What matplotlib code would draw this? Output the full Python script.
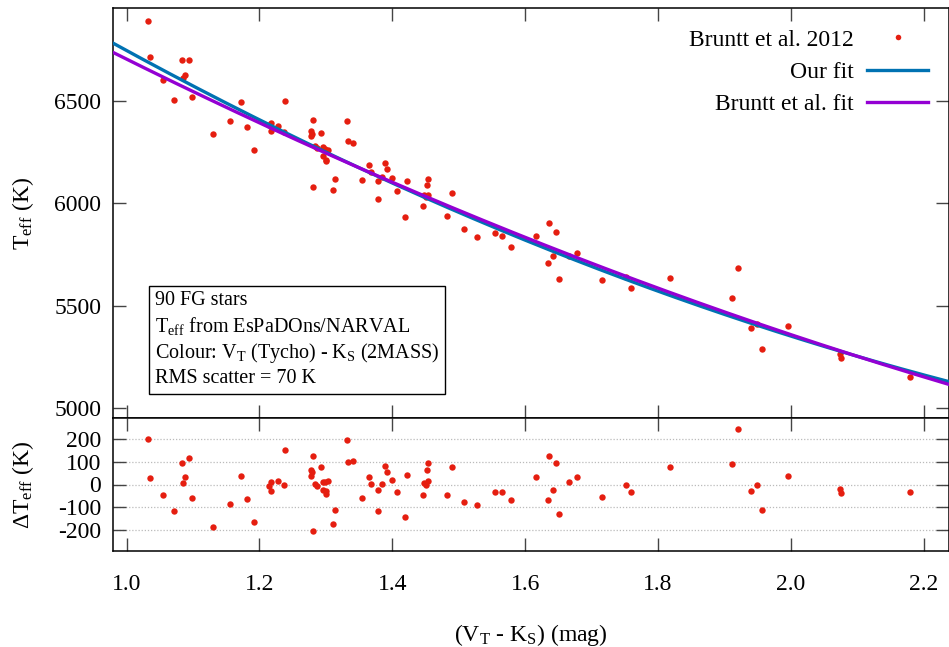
import numpy as np
import matplotlib
matplotlib.use("Agg")
import matplotlib.pyplot as plt
from matplotlib.lines import Line2D

plt.rcParams['font.family'] = ['Liberation Serif', 'DejaVu Serif']
plt.rcParams['mathtext.fontset'] = 'custom'
plt.rcParams['mathtext.rm'] = 'Liberation Serif'
plt.rcParams['mathtext.it'] = 'Liberation Serif:italic'
plt.rcParams['mathtext.bf'] = 'Liberation Serif:bold'
plt.rcParams['axes.unicode_minus'] = False

# ---- data ----
colour = [1.032, 1.035, 1.055, 1.071, 1.083, 1.085, 1.088, 1.094, 1.098, 1.130,
          1.155, 1.172, 1.182, 1.192, 1.214, 1.217, 1.218, 1.228, 1.237, 1.238,
          1.277, 1.277, 1.279, 1.281, 1.284, 1.286, 1.281, 1.292, 1.296, 1.299,
          1.303, 1.296, 1.300, 1.300, 1.314, 1.311, 1.332, 1.333, 1.341, 1.355,
          1.365, 1.368, 1.378, 1.379, 1.385, 1.389, 1.392, 1.399, 1.407, 1.419,
          1.422, 1.446, 1.448, 1.450, 1.452, 1.453, 1.454, 1.482, 1.490, 1.508,
          1.527, 1.554, 1.565, 1.579, 1.616, 1.636, 1.647, 1.642, 1.634, 1.651,
          1.666, 1.678, 1.716, 1.752, 1.760, 1.818, 1.911, 1.920, 1.940, 1.949,
          1.957, 1.996, 2.074, 2.076, 2.180]
teff = [6888, 6711, 6601, 6505, 6696, 6609, 6627, 6696, 6516, 6338,
        6398, 6492, 6372, 6257, 6380, 6391, 6352, 6377, 6346, 6497,
        6351, 6325, 6337, 6404, 6278, 6268, 6078, 6341, 6271, 6265,
        6261, 6229, 6211, 6203, 6117, 6062, 6398, 6302, 6292, 6112,
        6187, 6151, 6109, 6018, 6127, 6197, 6166, 6124, 6058, 5932,
        6110, 5984, 6040, 6029, 6086, 6117, 6037, 5937, 6051, 5873,
        5834, 5853, 5838, 5785, 5839, 5903, 5857, 5743, 5708, 5628,
        5744, 5758, 5624, 5640, 5588, 5633, 5539, 5681, 5390, 5408,
        5289, 5400, 5263, 5245, 5150]
dteff = [200, 29, -47, -117, 95, 6, 34, 114, -59, -186,
         -85, 39, -65, -164, -6, 10, -28, 15, -2, 149,
         64, 36, 53, 126, 4, -6, -204, 77, 11, 11,
         15, -26, -29, -40, -113, -173, 196, 99, 104, -57,
         35, 3, -25, -114, 3, 80, 53, 19, -35, -141,
         42, -47, 7, -3, 62, 92, 15, -47, 77, -75,
         -88, -33, -33, -68, 35, 126, 95, -25, -70, -129,
         10, 33, -55, 0, -34, 77, 89, 242, -29, -2,
         -112, 38, -18, -37, -35]

# quadratic fit coefficients (a + b x + c x^2)
our_fit = [8879.0, -2506.0, 371.0]
bruntt_fit = [8570.0, -2130.0, 262.0]

xticks = [1.0, 1.2, 1.4, 1.6, 1.8, 2.0, 2.2]
yticks_top = [5000, 5500, 6000, 6500]
yticks_bot = [-200, -100, 0, 100, 200]

labels = ['Bruntt et al. 2012', 'Our fit', 'Bruntt et al. fit']
box_lines = ['90 FG stars',
             r'T$_{\rm eff}$ from EsPaDOns/NARVAL',
             r'Colour: V$_{\rm T}$ (Tycho) - K$_{\rm S}$ (2MASS)',
             'RMS scatter = 70 K']

RED = '#e51e10'
BLUE = '#0072b2'
PURPLE = '#9400d3'

W, H = 949, 647
fig = plt.figure(figsize=(W / 100, H / 100), dpi=100)
L = 113.3 / W
R = 949.0 / W
top_y0, top_y1 = 8.3, 418.3
bot_y1 = 550.7
ax1 = fig.add_axes([L, 1 - top_y1 / H, R - L, (top_y1 - top_y0) / H])
ax2 = fig.add_axes([L, 1 - bot_y1 / H, R - L, (bot_y1 - top_y1) / H])

xlim = (0.98, 2.238)
xs = np.linspace(xlim[0], xlim[1], 300)
fit1 = our_fit[0] + our_fit[1] * xs + our_fit[2] * xs ** 2
fit2 = bruntt_fit[0] + bruntt_fit[1] * xs + bruntt_fit[2] * xs ** 2

ax1.plot(colour, teff, 'o', color=RED, ms=4.6, mec='none', zorder=2)
ax1.plot(xs, fit1, '-', color=BLUE, lw=2.4, zorder=3)
ax1.plot(xs, fit2, '-', color=PURPLE, lw=2.4, zorder=4)
ax1.set_xlim(*xlim)
ax1.set_ylim(4950, 6950)
ax1.set_yticks(yticks_top)
ax1.set_xticks(xticks)
ax1.set_xticklabels([])
ax1.set_ylabel(r'T$_{\rm eff}$ (K)', fontsize=17)

ax2.plot(colour, dteff, 'o', color=RED, ms=4.6, mec='none', zorder=3)
ax2.set_xlim(*xlim)
ax2.set_ylim(-290, 290)
ax2.set_yticks(yticks_bot)
ax2.set_yticklabels([str(v) for v in yticks_bot])
ax2.set_xticks(xticks)
ax2.set_xticklabels(['%.1f' % v for v in xticks])
ax2.yaxis.grid(True, linestyle=(0, (1, 1.5)), color='#bbbbbb', lw=0.9)
ax2.set_axisbelow(True)
ax2.set_ylabel('\u0394T$_{\\rm eff}$ (K)', fontsize=17)
ax2.set_xlabel(r'(V$_{\rm T}$ - K$_{\rm S}$) (mag)', fontsize=17)

for ax in (ax1, ax2):
    ax.tick_params(direction='in', length=9.4, width=1.0, color='#444444',
                   top=True, right=True, labelsize=17)
    ax.tick_params(axis='y', pad=8.8)
    ax.tick_params(axis='x', pad=17)
    for s in ax.spines.values():
        s.set_linewidth(1.1)
    ax.yaxis.set_label_coords(-0.093, 0.5)
ax2.xaxis.set_label_coords(0.5, -0.54)

handles = [Line2D([], [], marker='o', ls='none', color=RED, ms=4, mec='none'),
           Line2D([], [], color=BLUE, lw=2.4),
           Line2D([], [], color=PURPLE, lw=2.4)]
ax1.legend(handles, labels, loc='upper right', frameon=False, markerfirst=False,
           fontsize=17, handlelength=2.6, handletextpad=0.55, labelspacing=0.46,
           borderpad=0.0, borderaxespad=0.88)

ax1.text(0.0499, 0.31, '\n'.join(box_lines), transform=ax1.transAxes,
         fontsize=14.5, ha='left', va='top', linespacing=1.27,
         bbox=dict(boxstyle='square,pad=0.28', fc='white', ec='black', lw=1.0),
         zorder=5)

fig.savefig('out.png', dpi=100)
